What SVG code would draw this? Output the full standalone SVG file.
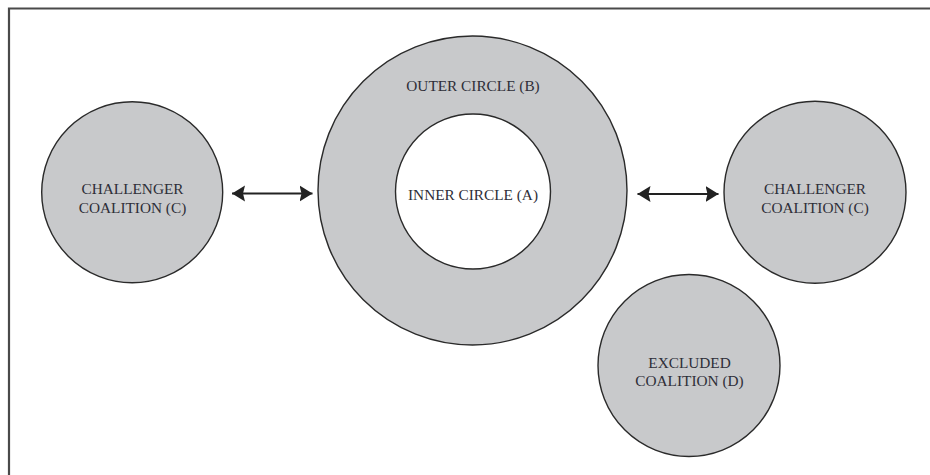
<svg xmlns="http://www.w3.org/2000/svg" width="930" height="475" viewBox="0 0 930 475">
  <style>
    .frame { stroke: #4a4a4a; stroke-width: 2.2; fill: none; }
    .node { fill: #c8c9cb; stroke: #2a2a2a; stroke-width: 1.4; }
    .hole { fill: #ffffff; stroke: #2a2a2a; stroke-width: 1.4; }
    .lbl { font-family: "Liberation Serif", "Times New Roman", serif; font-size: 15.3px; fill: #2e2e38; text-anchor: middle; }
    .conn { stroke: #222222; stroke-width: 2; fill: none; marker-start: url(#head); marker-end: url(#head); }
  </style>
  <defs>
    <marker id="head" markerUnits="userSpaceOnUse" markerWidth="14" markerHeight="18" refX="13" refY="8" orient="auto-start-reverse" viewBox="0 0 14 16">
      <path d="M0,0 L13,8 L0,16 L2,8 Z" fill="#222222"/>
    </marker>
  </defs>
  <rect width="930" height="475" fill="#ffffff"/>
  <path class="frame" d="M9,475 L9,8.5 L930,8.5"/>

  <g id="outer-circle">
    <circle class="node" cx="472.5" cy="190.5" r="154.5"/>
    <text class="lbl" x="473" y="91">OUTER CIRCLE (B)</text>
  </g>
  <g id="inner-circle">
    <circle class="hole" cx="473" cy="191.5" r="77.5"/>
    <text class="lbl" x="473" y="200">INNER CIRCLE (A)</text>
  </g>
  <g id="challenger-left">
    <circle class="node" cx="132.2" cy="192.2" r="90.5"/>
    <text class="lbl" x="132.5" y="194">CHALLENGER</text>
    <text class="lbl" x="132.5" y="212.5">COALITION (C)</text>
  </g>
  <g id="challenger-right">
    <circle class="node" cx="815" cy="192.2" r="91"/>
    <text class="lbl" x="815" y="194">CHALLENGER</text>
    <text class="lbl" x="815" y="212.5">COALITION (C)</text>
  </g>
  <g id="excluded">
    <circle class="node" cx="689" cy="365.5" r="91"/>
    <text class="lbl" x="689.5" y="367.5">EXCLUDED</text>
    <text class="lbl" x="689.5" y="385.5">COALITION (D)</text>
  </g>

  <g id="connectors">
    <line class="conn" x1="232" y1="193.5" x2="312.5" y2="193.5"/>
    <line class="conn" x1="637.5" y1="194" x2="718.5" y2="194"/>
  </g>
</svg>
